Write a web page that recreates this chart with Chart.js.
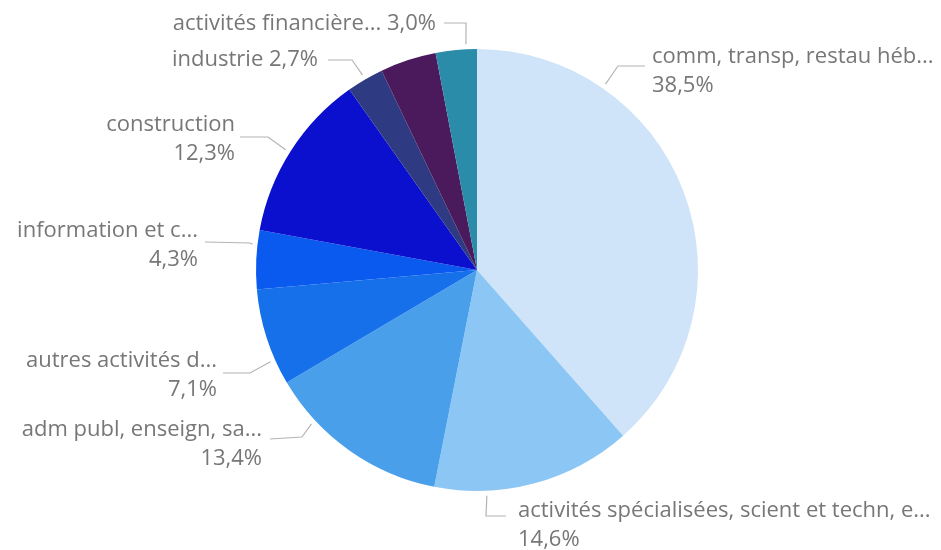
<!DOCTYPE html>
<html>
<head>
<meta charset="utf-8">
<script src="https://cdn.jsdelivr.net/npm/chart.js@4"></script>
<style>
    html, body { margin: 0; padding: 0; background: #fff; }
    #wrap { width: 941px; height: 550px; position: relative; }
</style>
</head>
<body>
<div id="wrap"><canvas id="pieChart"></canvas></div>
<script>
// data (slices clockwise from 12 o'clock)
var categories = [
    "comm, transp, restau héb...",
    "activités spécialisées, scient et techn, e...",
    "adm publ, enseign, sa...",
    "autres activités d...",
    "information et c...",
    "construction",
    "industrie",
    "autre",
    "activités financière..."
];
var shares = [38.5, 14.6, 13.4, 7.1, 4.3, 12.3, 2.7, 4.1, 3.0];
var showLabel = [true, true, true, true, true, true, true, false, true];

var sliceColors = ["#cfe4f8", "#8cc6f4", "#4a9feb", "#1670ea", "#0a5af0", "#0b10cf", "#2e3b82", "#4b1a5c", "#2a8ca8"];

// where each leader leaves its slice (fraction of the slice) and where its text sits
var labelLayout = [
    { t: 0.25, elbow: [618, 66], end: [645, 66], text: [652, 57], align: "left", split: true },
    { t: 0.74, elbow: [486, 516], end: [506, 516], text: [518, 511], align: "left", split: true },
    { t: 0.745, elbow: [302, 437], end: [270, 439], text: [262, 430], align: "right", split: true },
    { t: 0.26, elbow: [250, 373], end: [223, 373], text: [217, 361], align: "right", split: true },
    { t: 0.75, elbow: [250, 243], end: [205, 242], text: [198, 231], align: "right", split: true },
    { t: 0.49, elbow: [268, 137], end: [240, 137], text: [235, 125], align: "right", split: true },
    { t: 0.5, elbow: [352, 60], end: [328, 60], text: [318, 60], align: "right", split: false },
    null,
    { t: 0.74, elbow: [466, 23], end: [444, 23], text: [436, 24], align: "right", split: false }
];

function pct(v) {
    return v.toFixed(1).replace(".", ",") + "%";
}

var leaderLabels = {
    id: "leaderLabels",
    afterDatasetsDraw: function (chart) {
        var ctx = chart.ctx;
        var arcs = chart.getDatasetMeta(0).data;
        ctx.save();
        ctx.font = "22px 'Open Sans', sans-serif";
        ctx.textBaseline = "middle";
        for (var i = 0; i < arcs.length; i++) {
            var lay = labelLayout[i];
            if (!showLabel[i] || !lay) continue;
            var a = arcs[i];
            var ang = a.startAngle + (a.endAngle - a.startAngle) * lay.t;
            var r = a.outerRadius + 5;
            var sx = a.x + Math.cos(ang) * r;
            var sy = a.y + Math.sin(ang) * r;

            ctx.strokeStyle = "#b4b4b4";
            ctx.lineWidth = 1.2;
            ctx.beginPath();
            ctx.moveTo(sx, sy);
            ctx.lineTo(lay.elbow[0], lay.elbow[1]);
            ctx.lineTo(lay.end[0], lay.end[1]);
            ctx.stroke();

            ctx.fillStyle = "#777777";
            ctx.textAlign = lay.align;
            if (lay.split) {
                ctx.fillText(categories[i], lay.text[0], lay.text[1]);
                ctx.fillText(pct(shares[i]), lay.text[0], lay.text[1] + 29);
            } else {
                ctx.fillText(categories[i] + " " + pct(shares[i]), lay.text[0], lay.text[1]);
            }
        }
        ctx.restore();
    }
};

new Chart("pieChart", {
    type: "pie",
    data: {
        labels: categories,
        datasets: [{
            data: shares,
            backgroundColor: sliceColors,
            borderWidth: 0
        }]
    },
    options: {
        responsive: true,
        maintainAspectRatio: false,
        animation: false,
        layout: {
            padding: { left: 256, right: 243, top: 49, bottom: 59 }
        },
        plugins: {
            legend: { display: false },
            tooltip: { enabled: false }
        }
    },
    plugins: [leaderLabels]
});
</script>
</body>
</html>
